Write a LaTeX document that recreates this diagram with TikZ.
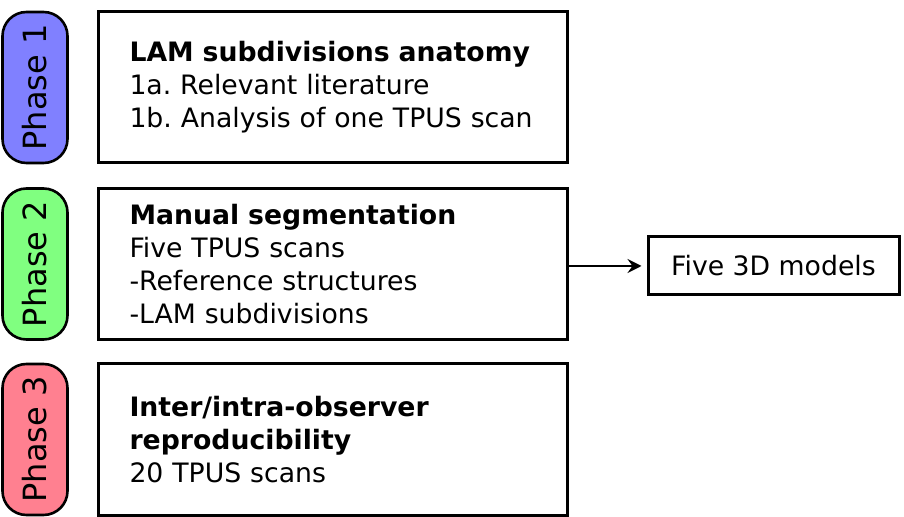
\documentclass[tikz,border=0pt]{standalone}
\usepackage{fontspec}
\setmainfont{DejaVu Sans}
\usetikzlibrary{arrows.meta}
\definecolor{phaseblue}{RGB}{128,128,255}
\definecolor{phasegreen}{RGB}{128,255,128}
\definecolor{phasepink}{RGB}{255,128,144}
\frenchspacing
\begin{document}
\begin{tikzpicture}[x=0.5pt,y=0.5pt,
		phasepill/.style={draw,line width=1.3pt,rounded corners=12pt,rotate=90,
			minimum width=75.5pt,minimum height=32.5pt,inner sep=0pt,
			font=\fontsize{16}{19}\selectfont},
		stagebox/.style={draw,line width=1.5pt,minimum width=234.5pt,minimum height=75.5pt,
			text width=203pt,inner xsep=15.75pt,align=left,
			font=\fontsize{13.35}{16.5}\selectfont},
		outbox/.style={draw,line width=1.5pt,minimum width=125.5pt,minimum height=29pt,
			font=\fontsize{13.35}{16.5}\selectfont}]
	\useasboundingbox (0,0) rectangle (904,-517);
	% phases
	\node[phasepill,fill=phaseblue] (p1) at (35,-87.5) {Phase 1};
	\node[phasepill,fill=phasegreen] (p2) at (35,-264) {Phase 2};
	\node[phasepill,fill=phasepink] (p3) at (35,-439.5) {Phase 3};
	% steps
	\node[stagebox] (s1) at (332.5,-87.5) {\textbf{LAM subdivisions anatomy}\\1a. Relevant literature\\1b. Analysis of one TPUS scan};
	\node[stagebox] (s2) at (332.5,-264) {\textbf{Manual segmentation}\\Five TPUS scans\\-Reference structures\\-LAM subdivisions};
	\node[stagebox] (s3) at (332.5,-439.5) {\textbf{Inter/intra-observer}\\\textbf{reproducibility}\\20 TPUS scans};
	\node[outbox] (m) at (773.5,-266) {Five 3D models};
	\draw[line width=1.1pt,-{Stealth[length=7pt,width=7pt,inset=2.5pt]},shorten >=2.5pt] (m.west -| s2.east) -- (m.west);
\end{tikzpicture}
\end{document}
